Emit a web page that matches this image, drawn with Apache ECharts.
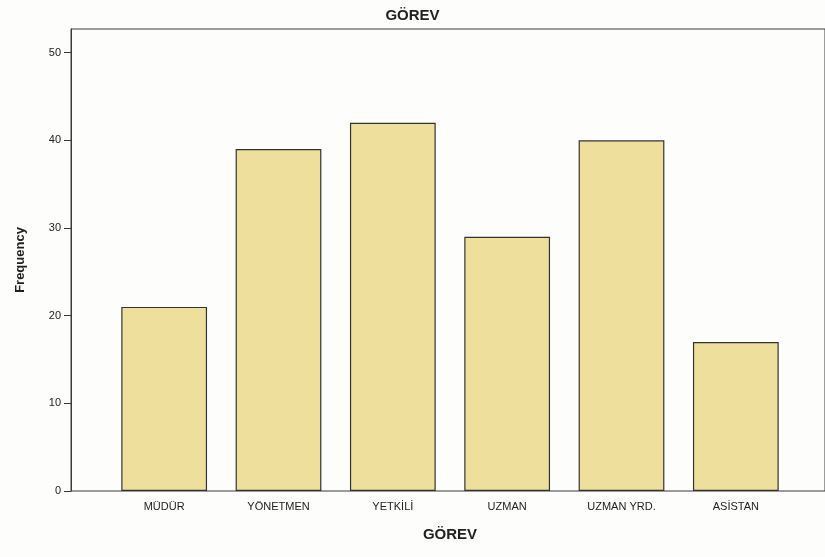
<!DOCTYPE html>
<html>
<head>
<meta charset="utf-8">
<title>GÖREV</title>
<script src="https://cdn.jsdelivr.net/npm/echarts@6/dist/echarts.min.js"></script>
<style>
  html, body { margin: 0; padding: 0; background: #fdfdfc; }
  #chart { width: 825px; height: 557px; }
</style>
</head>
<body>
<div id="chart"></div>
<script>
// data
const categories = ["MÜDÜR", "YÖNETMEN", "YETKİLİ", "UZMAN", "UZMAN YRD.", "ASİSTAN"];
const frequency = [21, 39, 42, 29, 40, 17];
const yTicks = [0, 10, 20, 30, 40, 50];

const yMax = 52.7;
const font = "Arial, 'Liberation Sans', sans-serif";

const chart = echarts.init(document.getElementById("chart"));
chart.setOption({
  backgroundColor: "#fdfdfc",
  animation: false,
  title: {
    text: "GÖREV",
    left: "center",
    top: 3,
    textStyle: { fontFamily: font, fontSize: 15, fontWeight: "bold", color: "#222" }
  },
  grid: [
    // frame: left axis line, top border, bottom axis line
    { left: 71, right: -4, top: 29, bottom: 66, show: true, borderColor: "#3a3a3a", borderWidth: 1, backgroundColor: "transparent" },
    // bars are inset from the frame like SPSS does
    { left: 107, right: 32, top: 29, bottom: 66 }
  ],
  xAxis: [
    { gridIndex: 0, type: "value", show: false },
    {
      gridIndex: 1,
      type: "category",
      data: categories,
      axisLine: { show: false },
      axisTick: { alignWithLabel: true, length: 5, lineStyle: { color: "#3a3a3a" } },
      axisLabel: { fontFamily: font, fontSize: 11, color: "#222", margin: 10 },
      name: "GÖREV",
      nameLocation: "middle",
      nameGap: 36,
      nameTextStyle: { fontFamily: font, fontSize: 15, fontWeight: "bold", color: "#222" }
    }
  ],
  yAxis: [
    {
      gridIndex: 0,
      type: "value",
      min: 0,
      max: yMax,
      axisLine: { show: true, lineStyle: { color: "#3a3a3a" } },
      axisTick: { show: true, length: 7, customValues: yTicks, lineStyle: { color: "#3a3a3a" } },
      axisLabel: { fontFamily: font, fontSize: 11, color: "#222", margin: 10, customValues: yTicks },
      splitLine: { show: false },
      name: "Frequency",
      nameLocation: "middle",
      nameGap: 44,
      nameTextStyle: { fontFamily: font, fontSize: 13, fontWeight: "bold", color: "#222" }
    },
    { gridIndex: 1, type: "value", min: 0, max: yMax, show: false }
  ],
  series: [
    {
      type: "bar",
      xAxisIndex: 1,
      yAxisIndex: 1,
      data: frequency,
      barCategoryGap: "25%",
      itemStyle: { color: "#efdf9d", borderColor: "#333", borderWidth: 1.2 }
    }
  ]
});
</script>
</body>
</html>
